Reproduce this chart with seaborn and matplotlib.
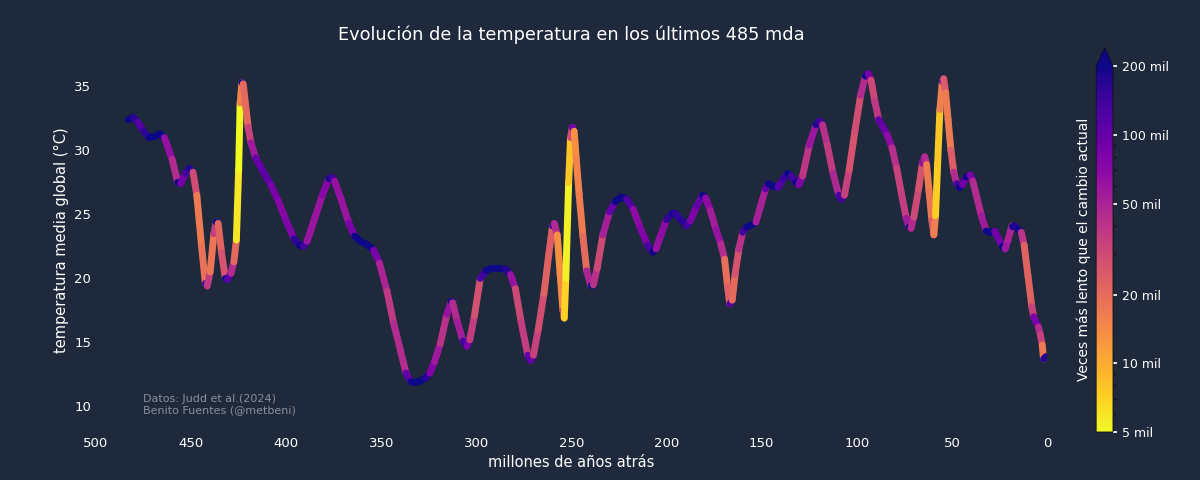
import numpy as np
import matplotlib
matplotlib.use("Agg")
import matplotlib.pyplot as plt
from matplotlib.collections import LineCollection
from matplotlib.colors import LogNorm
import seaborn as sns

# millones de años atrás (Ma)
edad = [483, 480.5, 478, 475, 472, 469, 466.5, 464, 460, 457, 455.5, 453, 451, 449,
        447, 444.5, 442.5, 441.5, 440, 438, 436.8, 435.8, 434, 432, 431, 429, 427.5,
        426.2, 425, 424.2, 423.3, 422.6, 421.3, 420, 418.5, 416, 412, 408, 404, 400,
        396, 393, 391, 389, 385, 381, 377.5, 376, 374.5, 371, 367, 364, 361, 357, 354,
        351, 347, 343.5, 340, 337, 334.5, 332.5, 330, 327, 324.5, 322, 319, 315.5,
        313.2, 312.5, 310, 307, 305, 303.5, 301, 298, 295, 292, 288, 284.5, 282,
        279.5, 276.5, 273, 271.5, 270, 267.5, 264.5, 262, 260, 259, 257.5, 256, 254.5,
        253.8, 253, 251.5, 250.5, 249.6, 248.6, 247.5, 246, 244, 242, 240, 238.5,
        236.5, 233.5, 230, 227, 224, 221, 217.5, 214, 210, 207.3, 205.5, 203, 200,
        197, 195.5, 192, 189.5, 187.5, 184, 181, 179.5, 177, 174, 171.5, 169.5, 168,
        166.8, 165.5, 164, 162, 160, 158, 155, 153, 150.5, 148, 146.5, 144, 141.5,
        138.5, 136.3, 134.5, 132, 130.5, 128.5, 125, 121.5, 119.5, 118, 115.5, 112.5,
        109.5, 108, 106.5, 104, 101, 98, 95.5, 94, 92.5, 90.5, 88.5, 86.5, 84, 81.5,
        79, 76.5, 74, 72.5, 71.5, 70, 67.5, 65.5, 64.3, 63.3, 62, 60.5, 59.5, 58.6,
        57.5, 56.3, 55, 54.3, 53.3, 52, 50.5, 49, 47.5, 46, 44.5, 42.5, 40.5, 39, 37,
        34.5, 32, 30, 27.5, 25.5, 23.5, 22, 20.5, 18.5, 17, 15, 13.5, 12, 10, 8, 7,
        5.5, 4.5, 3.5, 2.5, 1.8, 0.5]

# temperatura media global (°C)
temperatura = [32.4, 32.6, 32.2, 31.5, 31.0, 31.1, 31.3, 31.0, 29.3, 27.5, 27.4, 28.2,
               28.6, 28.3, 26.5, 22.5, 19.6, 19.4, 20.5, 23.5, 24.4, 24.3, 22.0, 20.0,
               19.9, 20.4, 21.3, 23.0, 28.5, 33.7, 35.3, 35.2, 33.5, 31.8, 30.6, 29.4,
               28.3, 27.3, 26.0, 24.5, 23.1, 22.6, 22.5, 22.9, 24.7, 26.5, 27.8, 27.9,
               27.6, 26.1, 24.3, 23.3, 22.9, 22.6, 22.2, 21.2, 19.0, 16.5, 14.4, 12.6,
               11.95, 11.85, 11.95, 12.2, 12.6, 13.5, 14.9, 17.2, 18.2, 18.1, 16.6, 15.1,
               14.7, 15.2, 17.1, 20.0, 20.6, 20.8, 20.8, 20.7, 20.3, 19.2, 16.6, 14.0,
               13.6, 14.0, 16.0, 18.8, 21.8, 24.1, 24.3, 23.4, 20.4, 17.5, 16.9, 20.0,
               27.5, 31.0, 31.8, 31.5, 29.3, 26.6, 23.3, 20.6, 19.5, 19.5, 20.8, 23.4,
               25.2, 26.0, 26.35, 26.2, 25.4, 24.0, 22.6, 22.05, 22.3, 23.4, 24.6, 25.1,
               25.1, 24.5, 24.1, 24.5, 25.7, 26.5, 26.3, 25.3, 23.8, 22.7, 21.5, 19.4,
               18.0, 18.3, 20.3, 22.3, 23.6, 24.0, 24.2, 24.4, 25.7, 27.0, 27.4, 27.2,
               27.1, 27.8, 28.2, 28.0, 27.5, 27.3, 28.0, 30.4, 32.0, 32.3, 32.0, 30.4,
               28.2, 26.5, 26.2, 26.5, 28.5, 31.5, 34.3, 35.8, 36.0, 35.5, 33.8, 32.4,
               31.9, 31.2, 30.2, 28.6, 26.6, 24.7, 24.0, 23.9, 24.8, 27.0, 29.0, 29.5,
               28.9, 26.8, 24.5, 23.4, 24.9, 29.0, 33.2, 35.4, 35.6, 34.5, 32.4, 30.0,
               28.3, 27.4, 27.1, 27.3, 27.9, 28.1, 27.6, 26.4, 24.9, 23.7, 23.6, 23.7,
               23.1, 22.5, 22.3, 23.0, 24.1, 24.1, 23.8, 23.6, 22.6, 20.2, 17.8, 17.0,
               16.5, 16.2, 15.6, 14.8, 13.7, 13.9]

# ritmo de calentamiento actual, °C por millón de años
tasa_actual = 27000

cbar_ticks = [5000, 10000, 20000, 50000, 100000, 200000]
cbar_labels = ["5 mil", "10 mil", "20 mil", "50 mil", "100 mil", "200 mil"]

bg = "#1e293b"
sns.set_theme(style="dark", rc={
    "figure.facecolor": bg, "axes.facecolor": bg, "savefig.facecolor": bg,
    "text.color": "white", "axes.labelcolor": "white",
    "xtick.color": "white", "ytick.color": "white",
    "axes.grid": False,
})

edad_arr = np.array(edad)
temp_arr = np.array(temperatura)

# lentitud de cada tramo respecto al cambio actual
pendiente = np.abs(np.diff(temp_arr) / np.diff(edad_arr))
lentitud = tasa_actual / np.maximum(pendiente, 1e-3)

puntos = np.column_stack([edad_arr, temp_arr]).reshape(-1, 1, 2)
tramos = np.concatenate([puntos[:-1], puntos[1:]], axis=1)

fig = plt.figure(figsize=(12, 4.8), dpi=100)
ax = fig.add_axes([0.08, 0.1, 0.7925, 0.8])
cax = fig.add_axes([0.9135, 0.1, 0.014, 0.8])

norm = LogNorm(vmin=5000, vmax=200000)
lc = LineCollection(tramos, cmap="plasma_r", norm=norm, linewidths=5,
                    capstyle="round")
lc.set_array(lentitud)
ax.add_collection(lc)

ax.set_xlim(500, 0)
ax.set_ylim(8, 38)
ax.set_xticks(range(500, -1, -50))
ax.set_yticks([10, 15, 20, 25, 30, 35])
ax.tick_params(length=0, labelsize=9.5)
sns.despine(ax=ax, left=True, bottom=True)

ax.set_title("Evolución de la temperatura en los últimos 485 mda",
             fontsize=12.75, color="white", pad=6)
ax.set_xlabel("millones de años atrás", fontsize=10.5)
ax.set_ylabel("temperatura media global (°C)", fontsize=10.5)

ax.text(0.049, 0.045, "Datos: Judd et al.(2024)\nBenito Fuentes (@metbeni)",
        transform=ax.transAxes, fontsize=8, color="#8a8f99",
        ha="left", va="bottom", linespacing=1.05)

cbar = fig.colorbar(lc, cax=cax, extend="max")
cbar.set_ticks(cbar_ticks)
cbar.set_ticklabels(cbar_labels)
cbar.ax.tick_params(which="major", labelsize=9, colors="white", length=3)
cbar.ax.tick_params(which="minor", colors="#111111", length=2)
cbar.outline.set_edgecolor("#111111")
cbar.outline.set_linewidth(0.6)
cbar.ax.yaxis.set_label_position("left")
cbar.set_label("Veces más lento que el cambio actual", fontsize=10,
               color="white", labelpad=4)

fig.savefig("out.png", dpi=100)
